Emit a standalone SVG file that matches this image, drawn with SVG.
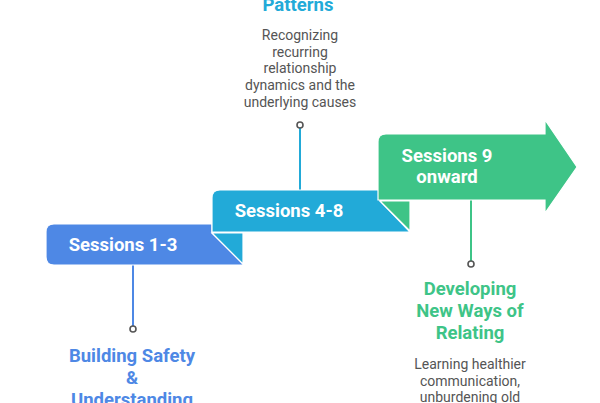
<svg xmlns="http://www.w3.org/2000/svg" width="600" height="403" viewBox="0 0 600 403">
<style>
.step{font-family:Roboto,"Liberation Sans",sans-serif;font-weight:700;font-size:18.5px;fill:#ffffff;text-anchor:middle}
.title{font-family:Roboto,"Liberation Sans",sans-serif;font-weight:700;font-size:18.5px;text-anchor:middle}
.desc{font-family:Roboto,"Liberation Sans",sans-serif;font-size:14px;fill:#555555;text-anchor:middle}
.dot{fill:#ffffff;stroke:#555555;stroke-width:1.6}
.edge{stroke:#ffffff;stroke-width:1.2}
</style>
<rect width="600" height="403" fill="#ffffff"/>
<g id="connectors">
<line x1="133" y1="265" x2="133" y2="326" stroke="#4E88E5" stroke-width="2"/>
<line x1="300" y1="190" x2="300" y2="128" stroke="#22AAD8" stroke-width="2"/>
<line x1="471" y1="200" x2="471" y2="261" stroke="#3EC487" stroke-width="2"/>
<circle class="dot" cx="133" cy="329" r="3"/>
<circle class="dot" cx="300" cy="125" r="3"/>
<circle class="dot" cx="471" cy="264" r="3"/>
</g>
<g id="step1">
<path class="edge" d="M54,224 H212 V233 L243,264 V265 H54 Q46,265 46,257 V232 Q46,224 54,224 Z" fill="#4E88E5"/>
<text class="step" x="123" y="251">Sessions 1-3</text>
</g>
<g id="step2">
<path class="edge" d="M220,190 H380 V201 L410,232 H212 V198 Q212,190 220,190 Z" fill="#22AAD8"/>
<path class="edge" d="M212,233 H243 V264 Z" fill="#22AAD8"/>
<text class="step" x="289" y="217">Sessions 4-8</text>
</g>
<g id="step3">
<path class="edge" d="M386,134 H545 V120 L577,167 L545,213 V200 H378 V142 Q378,134 386,134 Z" fill="#3EC487"/>
<path class="edge" d="M380,201 H410 V231 Z" fill="#3EC487"/>
<text class="step" x="447" y="162">Sessions 9</text>
<text class="step" x="447" y="183">onward</text>
</g>
<g id="label1">
<text class="title" fill="#4E88E5" x="132" y="362">Building Safety</text>
<text class="title" fill="#4E88E5" x="132" y="384">&amp;</text>
<text class="title" fill="#4E88E5" x="132" y="406">Understanding</text>
</g>
<g id="label2">
<text class="title" fill="#22AAD8" x="298" y="11">Patterns</text>
<text class="desc" x="300" y="40">Recognizing</text>
<text class="desc" x="300" y="57">recurring</text>
<text class="desc" x="300" y="73">relationship</text>
<text class="desc" x="300" y="90">dynamics and the</text>
<text class="desc" x="300" y="107">underlying causes</text>
</g>
<g id="label3">
<text class="title" fill="#3EC487" x="470" y="295">Developing</text>
<text class="title" fill="#3EC487" x="470" y="317">New Ways of</text>
<text class="title" fill="#3EC487" x="470" y="339">Relating</text>
<text class="desc" x="470" y="369">Learning healthier</text>
<text class="desc" x="470" y="386">communication,</text>
<text class="desc" x="470" y="402">unburdening old</text>
</g>
</svg>
